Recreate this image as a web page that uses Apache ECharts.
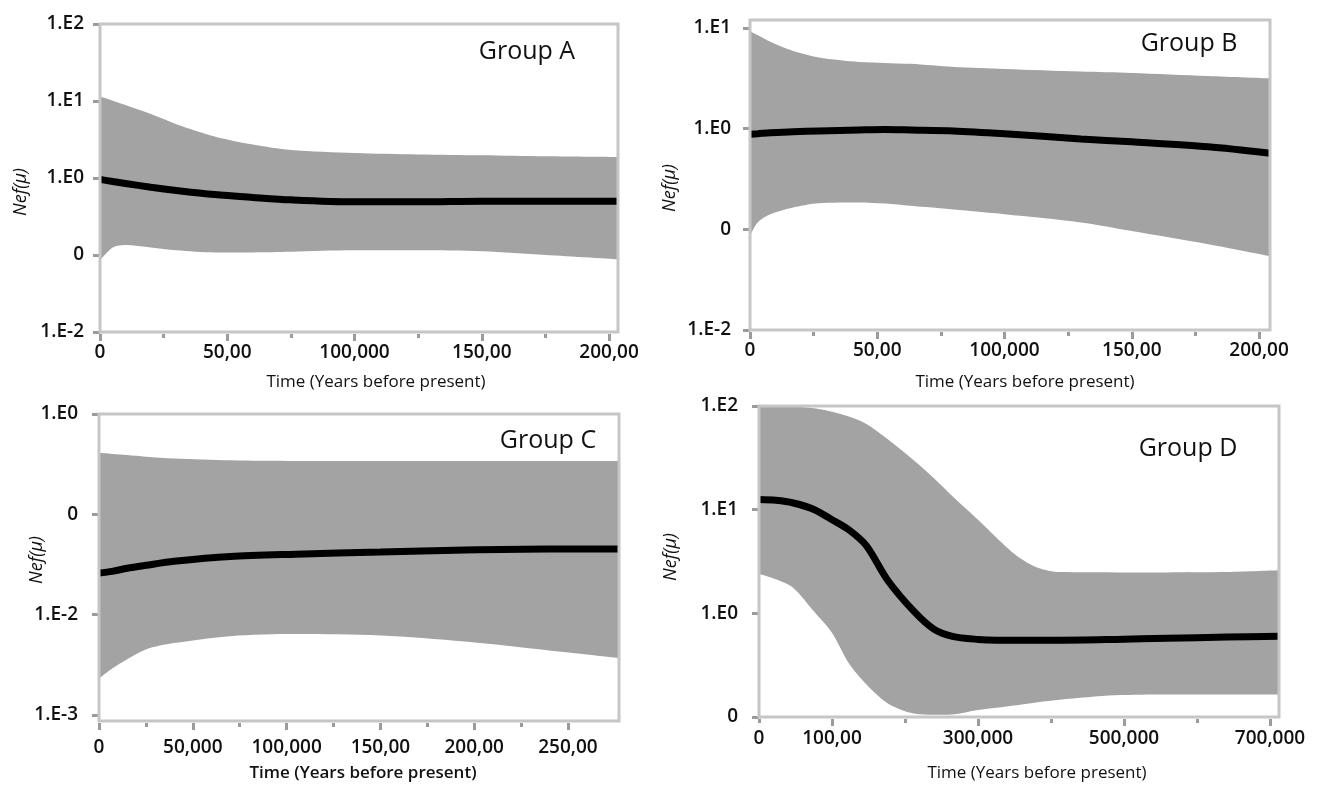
<!DOCTYPE html>
<html>
<head>
<meta charset="utf-8">
<title>Nef(μ) through time, groups A-D</title>
<script src="https://cdn.jsdelivr.net/npm/echarts@6/dist/echarts.min.js"></script>
<style>
  html, body { margin: 0; padding: 0; background: #fff; }
  #chart { width: 1323px; height: 785px; }
</style>
</head>
<body>
<div id="chart"></div>
<script>
// ---- data ----
// Group A
const timeA   = [0, 5000, 10000, 20000, 30000, 45000, 60000, 75000, 100000, 125000, 150000, 175000, 203500];
const upperA  = [11.4, 10.1, 8.85, 6.76, 5.0, 3.47, 2.72, 2.31, 2.11, 2.02, 1.97, 1.91, 1.87];
const medianA = [0.96, 0.9, 0.85, 0.76, 0.69, 0.61, 0.56, 0.52, 0.49, 0.49, 0.5, 0.5, 0.5];
const lowerA  = [0.085, 0.125, 0.135, 0.125, 0.115, 0.108, 0.108, 0.11, 0.115, 0.115, 0.112, 0.1, 0.088];

// Group B
const timeB   = [0, 3000, 8000, 17000, 27000, 43000, 53000, 63000, 80000, 100000, 130000, 150000, 180000, 204300];
const upperB  = [9.3, 8.5, 7.3, 5.9, 5.1, 4.6, 4.5, 4.4, 4.1, 3.92, 3.69, 3.58, 3.34, 3.16];
const medianB = [0.88, 0.89, 0.91, 0.93, 0.95, 0.97, 0.98, 0.97, 0.95, 0.89, 0.79, 0.74, 0.66, 0.57];
const lowerB  = [0.086, 0.117, 0.141, 0.165, 0.182, 0.185, 0.18, 0.171, 0.157, 0.141, 0.117, 0.096, 0.071, 0.054];

// Group C
const timeC   = [0, 7000, 15000, 25000, 40000, 70000, 105000, 150000, 195000, 240000, 277200];
const upperC  = [0.41, 0.40, 0.39, 0.375, 0.36, 0.345, 0.34, 0.34, 0.34, 0.34, 0.34];
const medianC = [0.026, 0.027, 0.029, 0.031, 0.034, 0.038, 0.040, 0.042, 0.044, 0.045, 0.045];
const lowerC  = [0.0023, 0.0029, 0.0036, 0.0045, 0.0052, 0.0061, 0.0064, 0.0062, 0.0054, 0.0044, 0.0037];

// Group D
const timeD   = [0, 23000, 47000, 76000, 100000, 123000, 147000, 176000, 212000, 240000, 265000, 300000, 325000, 353000, 382000, 412000, 488000, 559000, 641000, 712300];
const upperD  = [110, 108, 100, 95, 88, 79, 67, 48, 30, 20, 13.5, 8.0, 5.4, 3.6, 2.75, 2.5, 2.48, 2.48, 2.5, 2.6];
const medianD = [12.5, 12.3, 11.6, 10.0, 8.0, 6.4, 4.5, 2.1, 1.05, 0.7, 0.6, 0.56, 0.55, 0.55, 0.55, 0.55, 0.56, 0.575, 0.59, 0.6];
const lowerD  = [2.39, 2.13, 1.76, 1.03, 0.65, 0.33, 0.207, 0.136, 0.108, 0.105, 0.106, 0.117, 0.123, 0.13, 0.139, 0.147, 0.162, 0.165, 0.165, 0.165];

// tick values and the labels printed in the figure
const xTicksAB  = [0, 50000, 100000, 150000, 200000];
const xLabelsAB = ['0', '50,00', '100,000', '150,00', '200,00'];
const xMinorAB  = [25000, 75000, 125000, 175000];
const xTicksC   = [0, 50000, 100000, 150000, 200000, 250000];
const xLabelsC  = ['0', '50,000', '100,000', '150,00', '200,00', '250,00'];
const xMinorC   = [25000, 75000, 125000, 175000, 225000];
const xTicksD   = [0, 100000, 300000, 500000, 700000];
const xLabelsD  = ['0', '100,00', '300,000', '500,000', '700,000'];
const xMajorD   = [100000, 300000, 500000, 700000];
const xMinorD   = [0, 200000, 400000, 600000];

const yTicksA  = [0.01, 0.1, 1, 10, 100];
const yLabelsA = ['1.E-2', '0', '1.E0', '1.E1', '1.E2'];
const yTicksB  = [0.01, 0.1, 1, 10];
const yLabelsB = ['1.E-2', '0', '1.E0', '1.E1'];
const yTicksC  = [0.001, 0.01, 0.1, 1];
const yLabelsC = ['1.E-3', '1.E-2', '0', '1.E0'];
const yTicksD  = [0.1, 1, 10, 100];
const yLabelsD = ['0', '1.E0', '1.E1', '1.E2'];

// ---- styling ----
const FONT = '"Open Sans", "Noto Sans", sans-serif';
const BAND = '#a3a3a3';
const FRAME = '#c6c6c6';
const TICK = '#9b9b9b';
const TEXT = '#111';

const panels = [
  { name: 'Group A', time: timeA, upper: upperA, median: medianA, lower: lowerA,
    grid: { left: 100, top: 24, width: 518, height: 308 },
    xMax: 203500, xTicks: xTicksAB, xLabels: xLabelsAB, xMajor: xTicksAB, xMinor: xMinorAB, xMargin: 9,
    yMin: 0.01, yMax: 100, yTicks: yTicksA, yLabels: yLabelsA, yMargin: 12,
    nameAt: [527, 52], titleAt: [376, 382], nefAt: [21, 192], bold: false },
  { name: 'Group B', time: timeB, upper: upperB, median: medianB, lower: lowerB,
    grid: { left: 750, top: 20, width: 520, height: 310 },
    xMax: 204300, xTicks: xTicksAB, xLabels: xLabelsAB, xMajor: xTicksAB, xMinor: xMinorAB, xMargin: 9,
    yMin: 0.01, yMax: 12, yTicks: yTicksB, yLabels: yLabelsB, yMargin: 15,
    nameAt: [1189, 44], titleAt: [1025, 382], nefAt: [670, 188], bold: false },
  { name: 'Group C', time: timeC, upper: upperC, median: medianC, lower: lowerC,
    grid: { left: 99, top: 414, width: 520, height: 307 },
    xMax: 277200, xTicks: xTicksC, xLabels: xLabelsC, xMajor: xTicksC, xMinor: xMinorC, xMargin: 15,
    yMin: 0.00087, yMax: 1, yTicks: yTicksC, yLabels: yLabelsC, yMargin: 17,
    nameAt: [548, 441], titleAt: [363, 773], nefAt: [37, 560], bold: true },
  { name: 'Group D', time: timeD, upper: upperD, median: medianD, lower: lowerD,
    grid: { left: 759, top: 406, width: 520, height: 311 },
    xMax: 712300, xTicks: xTicksD, xLabels: xLabelsD, xMajor: xMajorD, xMinor: xMinorD, xMargin: 10,
    yMin: 0.1, yMax: 100, yTicks: yTicksD, yLabels: yLabelsD, yMargin: 17,
    nameAt: [1188, 449], titleAt: [1037, 773], nefAt: [671, 557], bold: false }
];

function pickLabel(ticks, labels, v, isLog) {
  let best = 0, bestD = Infinity;
  ticks.forEach((t, i) => {
    const d = isLog ? Math.abs(Math.log10(v) - Math.log10(t)) : Math.abs(v - t);
    if (d < bestD) { bestD = d; best = i; }
  });
  return labels[best];
}

const grids = [], xAxes = [], yAxes = [], series = [], texts = [];

panels.forEach((p, i) => {
  grids.push(Object.assign({
    show: true, borderColor: FRAME, borderWidth: 3, backgroundColor: 'transparent', z: 10
  }, p.grid));

  // main x axis: major ticks + labels
  xAxes.push({
    type: 'value', gridIndex: i, min: 0, max: p.xMax, position: 'bottom', offset: 2,
    axisLine: { show: false, onZero: false },
    splitLine: { show: false },
    axisTick: { show: true, customValues: p.xMajor, length: 7, lineStyle: { color: TICK, width: 3 } },
    axisLabel: {
      show: true, customValues: p.xTicks, margin: p.xMargin,
      color: TEXT, fontFamily: FONT, fontSize: 19, fontWeight: 600,
      formatter: v => pickLabel(p.xTicks, p.xLabels, v, false)
    }
  });
  // second x axis: short minor ticks only
  xAxes.push({
    type: 'value', gridIndex: i, min: 0, max: p.xMax, position: 'bottom', offset: 2,
    axisLine: { show: false, onZero: false },
    splitLine: { show: false },
    axisTick: { show: true, customValues: p.xMinor, length: 4, lineStyle: { color: TICK, width: 3 } },
    axisLabel: { show: false }
  });

  yAxes.push({
    type: 'log', logBase: 10, gridIndex: i, min: p.yMin, max: p.yMax, offset: 4,
    axisLine: { show: false },
    splitLine: { show: false },
    minorTick: { show: false },
    axisTick: { show: true, customValues: p.yTicks, length: 7, lineStyle: { color: TICK, width: 3 } },
    axisLabel: {
      show: true, customValues: p.yTicks, margin: p.yMargin,
      color: TEXT, fontFamily: FONT, fontSize: 19, fontWeight: 600,
      formatter: v => pickLabel(p.yTicks, p.yLabels, v, true)
    }
  });

  const common = { type: 'line', xAxisIndex: i * 2, yAxisIndex: i, symbol: 'none', smooth: 0.3, silent: true, animation: false };
  // band: grey fill under the upper bound, then white fill under the lower bound
  series.push(Object.assign({}, common, {
    name: p.name + ' upper 95% HPD',
    data: p.time.map((t, k) => [t, p.upper[k]]),
    lineStyle: { width: 0, opacity: 0 },
    areaStyle: { color: BAND, opacity: 1, origin: 'start' }
  }));
  series.push(Object.assign({}, common, {
    name: p.name + ' lower 95% HPD',
    data: p.time.map((t, k) => [t, p.lower[k]]),
    lineStyle: { width: 0, opacity: 0 },
    areaStyle: { color: '#fff', opacity: 1, origin: 'start' }
  }));
  series.push(Object.assign({}, common, {
    name: p.name + ' median', z: 4,
    data: p.time.map((t, k) => [t, p.median[k]]),
    lineStyle: { color: '#000', width: 7 }
  }));

  texts.push({
    type: 'text', x: p.nameAt[0], y: p.nameAt[1], z: 20,
    style: { text: p.name, font: '500 25px ' + FONT, fill: TEXT, align: 'center', verticalAlign: 'middle' }
  });
  texts.push({
    type: 'text', x: p.titleAt[0], y: p.titleAt[1], z: 20,
    style: { text: 'Time (Years before present)', font: (p.bold ? '600 ' : '400 ') + '17px ' + FONT,
             fill: TEXT, align: 'center', verticalAlign: 'middle' }
  });
  texts.push({
    type: 'text', x: p.nefAt[0], y: p.nefAt[1], rotation: Math.PI / 2, z: 20,
    style: { text: 'Nef(μ)', font: 'italic 400 18px ' + FONT, fill: TEXT, align: 'center', verticalAlign: 'middle' }
  });
});

const chart = echarts.init(document.getElementById('chart'));
chart.setOption({
  backgroundColor: '#fff',
  animation: false,
  grid: grids,
  xAxis: xAxes,
  yAxis: yAxes,
  series: series,
  graphic: texts
});
window.addEventListener('resize', () => chart.resize());
</script>
</body>
</html>
